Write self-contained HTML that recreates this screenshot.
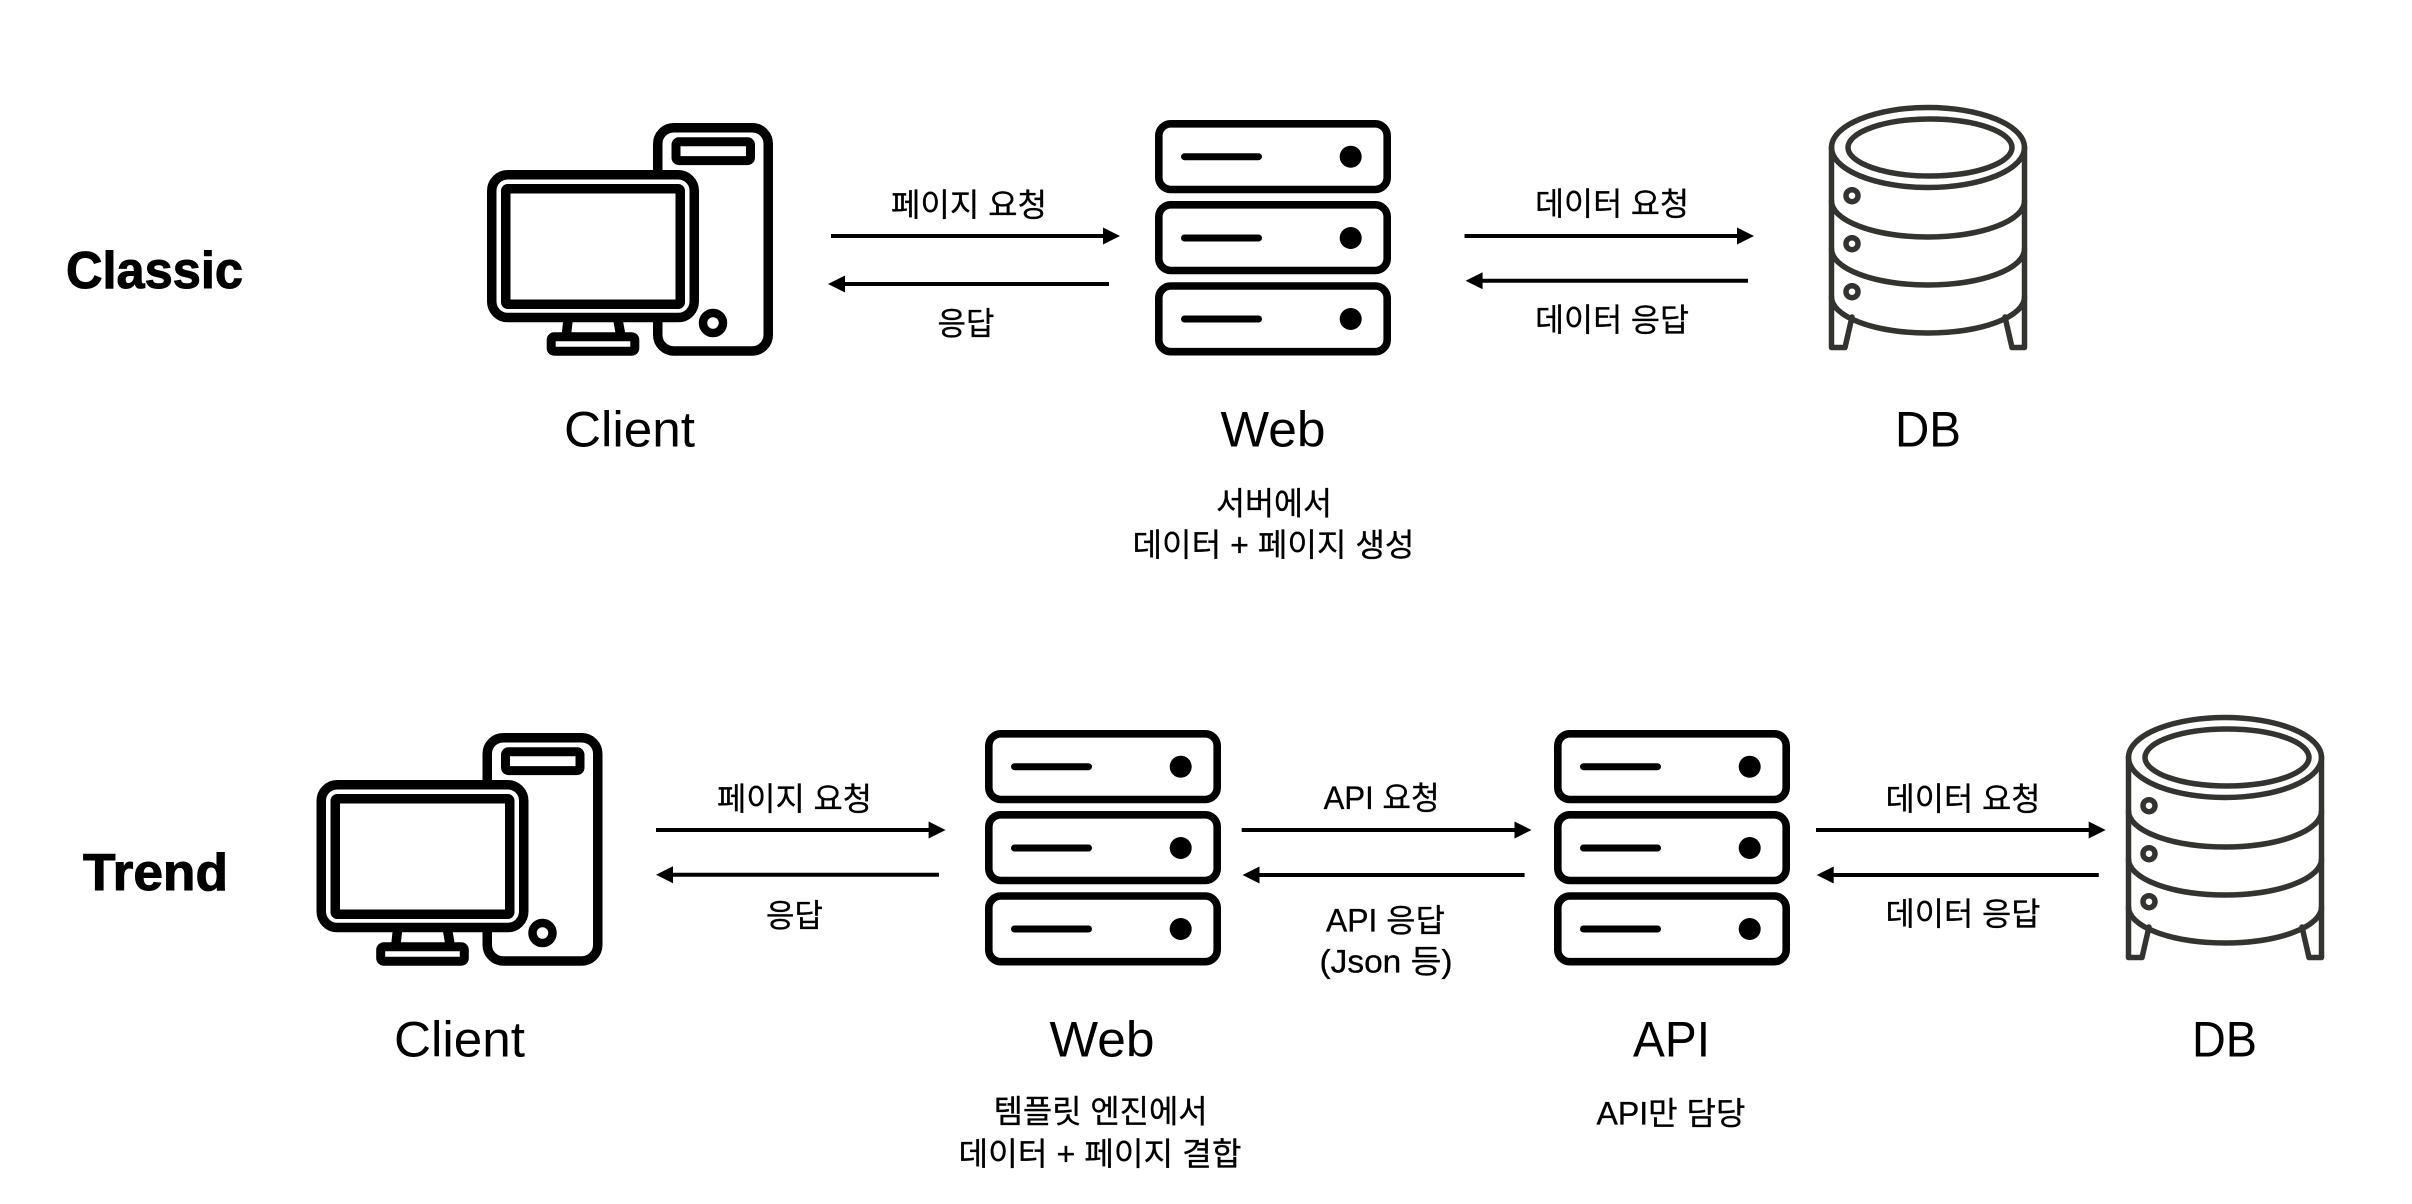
<!DOCTYPE html>
<html><head><meta charset="utf-8"><style>
html,body{margin:0;padding:0;background:#fff}
svg{display:block}
text{font-family:"Liberation Sans","Noto Sans CJK KR",sans-serif;fill:#000;text-anchor:middle}
.s{font-size:32px;stroke:#000;stroke-width:.3px}
.b{font-size:50px}
.t{font-size:52px;font-weight:700;stroke:#000;stroke-width:1px}
</style></head><body>
<svg width="2412" height="1204" viewBox="0 0 2412 1204" xmlns="http://www.w3.org/2000/svg">
<rect width="2412" height="1204" fill="#fff"/>
<defs>
<g id="pc" fill="#fff" stroke="#000" stroke-linejoin="round">
<rect x="657.75" y="127.75" width="110.5" height="223.2" rx="16" stroke-width="9.5"/>
<rect x="676" y="141.8" width="74.5" height="18.8" rx="3" stroke-width="9"/>
<circle cx="713" cy="323" r="10" stroke-width="8.5"/>
<path d="M568 320L566.5 334M618 320L620.5 334" stroke-width="9.5" fill="none"/>
<rect x="551.2" y="336.8" width="83.6" height="14.4" rx="3" stroke-width="9"/>
<rect x="491.75" y="174.75" width="202.5" height="142.8" rx="16" stroke-width="9.5"/>
<rect x="505.75" y="188.75" width="174.5" height="115.5" rx="2" stroke-width="9.5"/>
</g>
<g id="srv">
<g fill="#fff" stroke="#000" stroke-width="7.6">
<rect x="1158.8" y="123.8" width="228.4" height="65.7" rx="12"/>
<rect x="1158.8" y="204.8" width="228.4" height="65.7" rx="12"/>
<rect x="1158.8" y="286" width="228.4" height="65.7" rx="12"/>
</g>
<path d="M1184.5 156.7H1258.5M1184.5 238H1258.5M1184.5 319H1258.5" stroke="#000" stroke-width="7" stroke-linecap="round"/>
<circle cx="1350.7" cy="156.7" r="11"/><circle cx="1350.7" cy="238" r="11"/><circle cx="1350.7" cy="319" r="11"/>
</g>
<g id="db" fill="none" stroke="#33332f" stroke-width="5.5" stroke-linejoin="round" stroke-linecap="round">
<path d="M1831.5 147V347.5H1845L1852 317M2024.5 147V347.5H2012L2005 317"/>
<ellipse cx="1928" cy="147.5" rx="96.5" ry="40"/>
<ellipse cx="1930" cy="147.5" rx="82" ry="28.5"/>
<path d="M1831.5 201A96.5 36 0 0 0 2024.5 201M1831.5 249A96.5 36 0 0 0 2024.5 249M1831.5 297A96.5 36 0 0 0 2024.5 297"/>
<circle cx="1852" cy="195.7" r="6"/><circle cx="1852" cy="243.7" r="6"/><circle cx="1852" cy="291.7" r="6"/>
</g>
</defs>

<use href="#pc"/>
<use href="#srv"/>
<use href="#db"/>
<use href="#pc" transform="translate(-170.5 610)"/>
<use href="#srv" transform="translate(-170 610)"/>
<use href="#srv" transform="translate(399 610)"/>
<use href="#db" transform="translate(297 610)"/>

<g stroke="#000" stroke-width="4">
<path d="M831 236H1105M843 284H1109M1464.5 236H1739M1480 280.7H1748"/>
<path d="M656 830H931M670 874.7H939M1241.7 830H1517M1257 875H1524.6M1816 830H2091M1831 875H2098.8"/>
</g>
<g fill="#000">
<polygon points="1103,227.5 1120,236 1103,244.5"/>
<polygon points="845,275.5 828,284 845,292.5"/>
<polygon points="1737,227.5 1754,236 1737,244.5"/>
<polygon points="1482.6,272.2 1465.6,280.7 1482.6,289.2"/>
<polygon points="928.6,821.5 945.6,830 928.6,838.5"/>
<polygon points="673,866.2 656,874.7 673,883.2"/>
<polygon points="1514.5,821.5 1531.5,830 1514.5,838.5"/>
<polygon points="1259.5,866.5 1242.5,875 1259.5,883.5"/>
<polygon points="2088.7,821.5 2105.7,830 2088.7,838.5"/>
<polygon points="1833.7,866.5 1816.7,875 1833.7,883.5"/>
</g>

<text class="t" x="154.5" y="288" textLength="177" lengthAdjust="spacingAndGlyphs">Classic</text>
<text class="t" x="155.5" y="890" textLength="145" lengthAdjust="spacingAndGlyphs">Trend</text>

<text class="b" x="629.5" y="446.5" textLength="131" lengthAdjust="spacingAndGlyphs">Client</text>
<text class="b" x="1273" y="446.5" textLength="105" lengthAdjust="spacingAndGlyphs">Web</text>
<text class="b" x="1928" y="446.5" textLength="66" lengthAdjust="spacingAndGlyphs">DB</text>
<text class="b" x="459.5" y="1056.5" textLength="131" lengthAdjust="spacingAndGlyphs">Client</text>
<text class="b" x="1102" y="1056.5" textLength="105" lengthAdjust="spacingAndGlyphs">Web</text>
<text class="b" x="1671.5" y="1056.5" textLength="77" lengthAdjust="spacingAndGlyphs">API</text>
<text class="b" x="2224.5" y="1056.5" textLength="65" lengthAdjust="spacingAndGlyphs">DB</text>

<text class="s" x="969" y="216" textLength="156" lengthAdjust="spacingAndGlyphs">페이지 요청</text>
<text class="s" x="966" y="334.5" textLength="57" lengthAdjust="spacingAndGlyphs">응답</text>
<text class="s" x="1612" y="215" textLength="154" lengthAdjust="spacingAndGlyphs">데이터 요청</text>
<text class="s" x="1612" y="331" textLength="154" lengthAdjust="spacingAndGlyphs">데이터 응답</text>
<text class="s" x="1274" y="514.5" textLength="116" lengthAdjust="spacingAndGlyphs">서버에서</text>
<text class="s" x="1273.5" y="556" textLength="282" lengthAdjust="spacingAndGlyphs">데이터 + 페이지 생성</text>

<text class="s" x="794.5" y="810" textLength="155" lengthAdjust="spacingAndGlyphs">페이지 요청</text>
<text class="s" x="794.5" y="926.5" textLength="57" lengthAdjust="spacingAndGlyphs">응답</text>
<text class="s" x="1381.6" y="809" textLength="116" lengthAdjust="spacingAndGlyphs">API 요청</text>
<text class="s" x="1385.5" y="931.5" textLength="119" lengthAdjust="spacingAndGlyphs">API 응답</text>
<text class="s" x="1386" y="972.5" textLength="133" lengthAdjust="spacingAndGlyphs">(Json 등)</text>
<text class="s" x="1963" y="810" textLength="155" lengthAdjust="spacingAndGlyphs">데이터 요청</text>
<text class="s" x="1963" y="925" textLength="155" lengthAdjust="spacingAndGlyphs">데이터 응답</text>
<text class="s" x="1671" y="1124.5" textLength="149" lengthAdjust="spacingAndGlyphs">API만 담당</text>
<text class="s" x="1100.6" y="1122.5" textLength="214" lengthAdjust="spacingAndGlyphs">템플릿 엔진에서</text>
<text class="s" x="1100" y="1165" textLength="283" lengthAdjust="spacingAndGlyphs">데이터 + 페이지 결합</text>
</svg>
</body></html>
